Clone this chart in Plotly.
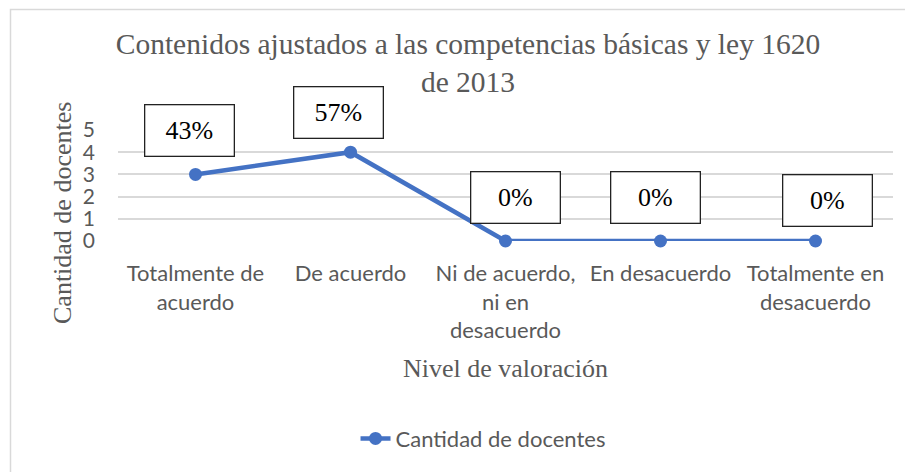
import plotly.graph_objects as go

categories = ["Totalmente de<br>acuerdo", "De acuerdo", "Ni de acuerdo,<br>ni en<br>desacuerdo",
              "En desacuerdo", "Totalmente en<br>desacuerdo"]
values = [3, 4, 0, 0, 0]
percent_labels = ["43%", "57%", "0%", "0%", "0%"]
series_name = "Cantidad de docentes"
y_ticks = [0, 1, 2, 3, 4, 5]

# label box placement (plot-fraction y, pixel x shift)
label_y = [0.991, 1.162, 0.396, 0.396, 0.369]
label_xshift = [-6, -12, 10, -5, 12]

BLUE = "#4472C4"
GRAY = "#595959"
SANS = "Lato"
SERIF = "Liberation Serif"

fig = go.Figure()
fig.add_trace(go.Scatter(
    x=categories, y=values, mode="lines+markers", name=series_name,
    line=dict(color=BLUE, width=4.5), marker=dict(color=BLUE, size=13),
    cliponaxis=False,
))

for c, t, yy, xs in zip(categories, percent_labels, label_y, label_xshift):
    fig.add_annotation(
        x=c, y=yy, xref="x", yref="paper", text=t, showarrow=False, xshift=xs,
        xanchor="center", yanchor="middle",
        font=dict(family=SERIF, size=26, color="black"),
        bgcolor="white", bordercolor="#222222", borderwidth=1.3, borderpad=0,
        width=88, height=50,
    )

# y-axis title
fig.add_annotation(
    x=(62 - 118) / 775, y=(241 - 213) / 111, xref="paper", yref="paper",
    text="Cantidad de docentes", textangle=-90, showarrow=False,
    xanchor="center", yanchor="middle",
    font=dict(family=SERIF, size=26, color=GRAY),
)

# outer chart border (only top/left visible in frame)
fig.add_shape(type="rect", xref="paper", yref="paper",
              x0=(10.5 - 118) / 775, x1=(940 - 118) / 775,
              y0=(241 - 500) / 111, y1=(241 - 9.5) / 111,
              line=dict(color="#d9d9d9", width=1.5), fillcolor="rgba(0,0,0,0)", layer="below")

fig.update_layout(
    width=905, height=464,
    margin=dict(l=110, r=20, t=122, b=231),
    paper_bgcolor="white", plot_bgcolor="white",
    title=dict(text="Contenidos ajustados a las competencias básicas y ley 1620<br>de 2013",
               x=460 / 905, xanchor="center", y=1 - 46 / 464, yanchor="middle",
               font=dict(family=SERIF, size=29.5, color=GRAY)),
    showlegend=True,
    legend=dict(orientation="h", x=0.471, xanchor="center", y=-1.78, yanchor="middle",
                font=dict(family=SANS, size=22, color=GRAY), bgcolor="rgba(0,0,0,0)"),
    xaxis=dict(
        type="category", range=[-0.5, 4.5], showgrid=False, zeroline=False, showline=False,
        tickfont=dict(family=SANS, size=22, color=GRAY), ticklabelstandoff=17,
        title=dict(text="Nivel de valoración", font=dict(family=SERIF, size=26, color=GRAY), standoff=16),
    ),
    yaxis=dict(
        range=[0, 5], tickvals=y_ticks, showgrid=True, gridcolor="#d9d9d9", gridwidth=1.5,
        zeroline=False, showline=False,
        tickfont=dict(family=SANS, size=21, color=GRAY), ticklabelstandoff=22,
    ),
)

fig.write_html("out.html")
